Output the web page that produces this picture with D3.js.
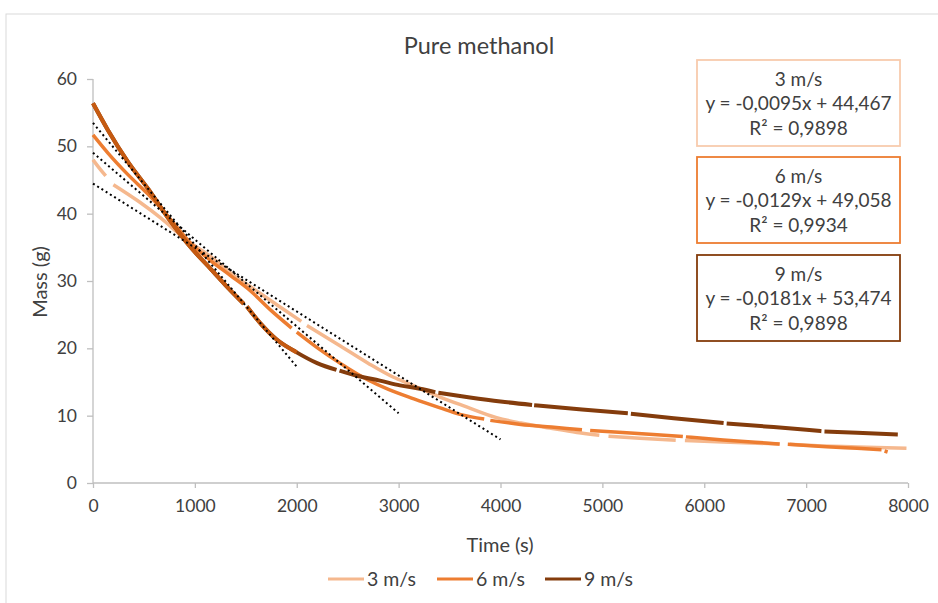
<!DOCTYPE html>
<html>
<head>
<meta charset="utf-8">
<script src="https://cdn.jsdelivr.net/npm/d3@7"></script>
<style>
  body { margin: 0; background: #fff; }
  text { font-family: Lato, "Liberation Sans", sans-serif; fill: #404040; }
</style>
</head>
<body>
<div id="chart"></div>
<script>
const chartWidth = 938
const chartHeight = 603

// data: [time (s), mass (g)], null = missing stretch
const series3 = [[0, 48.0], [60, 46.8], [125, 45.6], null, [200, 44.3], [450, 41.8], [670, 39.3], [900, 36.3],
  [1150, 33.7], [1400, 30.6], [1550, 29.1], [1800, 26.5], [2045, 24.0], null, [2100, 23.4], [2424, 20.4],
  [2700, 17.8], [2950, 15.7], [3111, 14.7], [3400, 12.8], [3667, 11.3], [3962, 9.7], [4200, 8.9], [4485, 8.15],
  [4750, 7.5], [4970, 7.1], null, [5060, 6.95], [5368, 6.65], [5720, 6.35], null, [5810, 6.3], [6186, 6.1],
  [6740, 5.8], null, [6840, 5.75], [7004, 5.6], [7500, 5.35], [7985, 5.15]]

const series6 = [[0, 51.7], [147, 49.0], [343, 45.8], [540, 42.9], [736, 39.6], [965, 35.5], [1148, 33.1],
  [1350, 30.8], [1541, 28.6], [1750, 25.6], [1950, 23.0], null, [2000, 22.4], [2200, 20.1], [2424, 17.8],
  [2700, 15.3], [2900, 13.9], [3150, 12.5], [3400, 11.2], [3602, 10.2], [3840, 9.5], null, [3900, 9.3],
  [4200, 8.7], [4500, 8.3], [4800, 7.9], null, [4880, 7.8], [5200, 7.5], [5500, 7.2], [5790, 6.9], null,
  [5820, 6.85], [6186, 6.4], [6500, 6.05], [6740, 5.8], null, [6820, 5.75], [7200, 5.4], [7500, 5.15],
  [7740, 4.95], null, [7770, 4.75], [7800, 4.6]]

const series9 = [[0, 56.4], [147, 52.4], [343, 47.7], [540, 43.7], [736, 39.4], [965, 34.9], [1148, 31.9],
  [1300, 29.4], [1480, 26.6], null, [1510, 26.2], [1650, 23.6], [1803, 21.3], [1999, 19.4], [2200, 17.8],
  [2390, 16.8], null, [2420, 16.7], [2600, 15.9], [2816, 15.2], [3013, 14.5], [3209, 14.0], [3360, 13.5], null,
  [3390, 13.4], [3700, 12.7], [4000, 12.1], [4310, 11.6], null, [4330, 11.55], [4800, 10.9], [5250, 10.35], null,
  [5280, 10.3], [5700, 9.6], [6190, 8.9], null, [6220, 8.85], [6600, 8.4], [7004, 7.9], [7150, 7.7], null,
  [7180, 7.65], [7500, 7.45], [7900, 7.2]]

const seriesNames = ['3 m/s', '6 m/s', '9 m/s']
const slopes = [-0.0095, -0.0129, -0.0181]
const intercepts = [44.467, 49.058, 53.474]
const fitEnds = [4000, 3000, 2000]
const equations = ['y = -0,0095x + 44,467', 'y = -0,0129x + 49,058', 'y = -0,0181x + 53,474']
const rSquared = ['R² = 0,9898', 'R² = 0,9934', 'R² = 0,9898']
const xTicks = [0, 1000, 2000, 3000, 4000, 5000, 6000, 7000, 8000]
const yTicks = [0, 10, 20, 30, 40, 50, 60]

const colors = ['#F5B88E', '#ED7D31', '#843C0C']
const boxColors = ['#F8CBAD', '#ED7D31', '#843C0C']

const svg = d3.select('#chart')
  .append('svg')
  .attr('width', chartWidth)
  .attr('height', chartHeight)

// chart frame
svg.append('rect')
  .attr('x', 6).attr('y', 14)
  .attr('width', 1000).attr('height', 1000)
  .attr('fill', '#fff')
  .attr('stroke', '#d9d9d9')

const xScale = d3.scaleLinear().domain([0, 8000]).range([93, 908])
const yScale = d3.scaleLinear().domain([0, 60]).range([483, 79])

const xAxis = d3.axisBottom(xScale).tickValues(xTicks).tickSize(5).tickPadding(12).tickFormat(d3.format('d'))
const gx = svg.append('g')
  .attr('transform', `translate(0, ${yScale(0)})`)
  .call(xAxis)
const yAxis = d3.axisLeft(yScale).tickValues(yTicks).tickSize(6).tickPadding(10)
const gy = svg.append('g')
  .attr('transform', `translate(${xScale(0)}, 0)`)
  .call(yAxis)

for (const g of [gx, gy]) {
  g.selectAll('path, line').attr('stroke', '#bfbfbf').attr('stroke-width', 1.3)
  g.select('.domain').attr('d', g === gx ? 'M93,0H908' : 'M0,483V79')
  g.selectAll('text').attr('font-size', 17.5).attr('fill', '#404040')
    .style('font-family', 'Lato, sans-serif')
}

const line = d3.line()
  .defined(d => d !== null)
  .x(d => xScale(d[0]))
  .y(d => yScale(d[1]))
  .curve(d3.curveMonotoneX)

const allSeries = [series3, series6, series9]
allSeries.forEach((data, i) => {
  svg.append('path')
    .attr('d', line(data))
    .attr('fill', 'none')
    .attr('stroke', colors[i])
    .attr('stroke-width', i === 2 ? 4 : 3.5)
})

// fitted stretch of 9 m/s shown in a lighter brown
const fitPart = []
for (const d of series9) {
  if (d === null || d[0] <= fitEnds[2]) fitPart.push(d)
  else break
}
svg.append('path')
  .attr('d', line(fitPart))
  .attr('fill', 'none')
  .attr('stroke', '#C55A11')
  .attr('stroke-width', 4)

// trendlines
slopes.forEach((m, i) => {
  svg.append('line')
    .attr('x1', xScale(0)).attr('y1', yScale(intercepts[i]))
    .attr('x2', xScale(fitEnds[i])).attr('y2', yScale(intercepts[i] + m * fitEnds[i]))
    .attr('stroke', '#000')
    .attr('stroke-width', 2)
    .attr('stroke-dasharray', '2 3')
})

// equation boxes
const boxTop = [60, 157, 255]
seriesNames.forEach((name, i) => {
  const g = svg.append('g').attr('transform', `translate(697, ${boxTop[i]})`)
  g.append('rect')
    .attr('width', 203).attr('height', 86)
    .attr('fill', '#fff')
    .attr('stroke', boxColors[i])
    .attr('stroke-width', 1.8)
  const lines = [name, equations[i], rSquared[i]]
  lines.forEach((t, k) => {
    g.append('text')
      .attr('x', 101.5).attr('y', 19 + k * 24.5)
      .attr('dy', '0.35em')
      .attr('text-anchor', 'middle')
      .attr('font-size', 19)
      .text(t)
  })
})

// title and axis titles
svg.append('text')
  .attr('x', 479).attr('y', 46).attr('dy', '0.35em')
  .attr('text-anchor', 'middle').attr('font-size', 23.5)
  .text('Pure methanol')
svg.append('text')
  .attr('x', 500).attr('y', 545).attr('dy', '0.35em')
  .attr('text-anchor', 'middle').attr('font-size', 20)
  .text('Time (s)')
svg.append('text')
  .attr('transform', 'translate(40, 282) rotate(-90)')
  .attr('dy', '0.35em')
  .attr('text-anchor', 'middle').attr('font-size', 20)
  .text('Mass (g)')

// legend
const legendX = [328, 437, 545]
seriesNames.forEach((name, i) => {
  svg.append('line')
    .attr('x1', legendX[i]).attr('x2', legendX[i] + 36)
    .attr('y1', 579).attr('y2', 579)
    .attr('stroke', colors[i]).attr('stroke-width', 3)
  svg.append('text')
    .attr('x', legendX[i] + 39).attr('y', 579).attr('dy', '0.35em')
    .attr('font-size', 19.5)
    .text(name)
})
</script>
</body>
</html>
